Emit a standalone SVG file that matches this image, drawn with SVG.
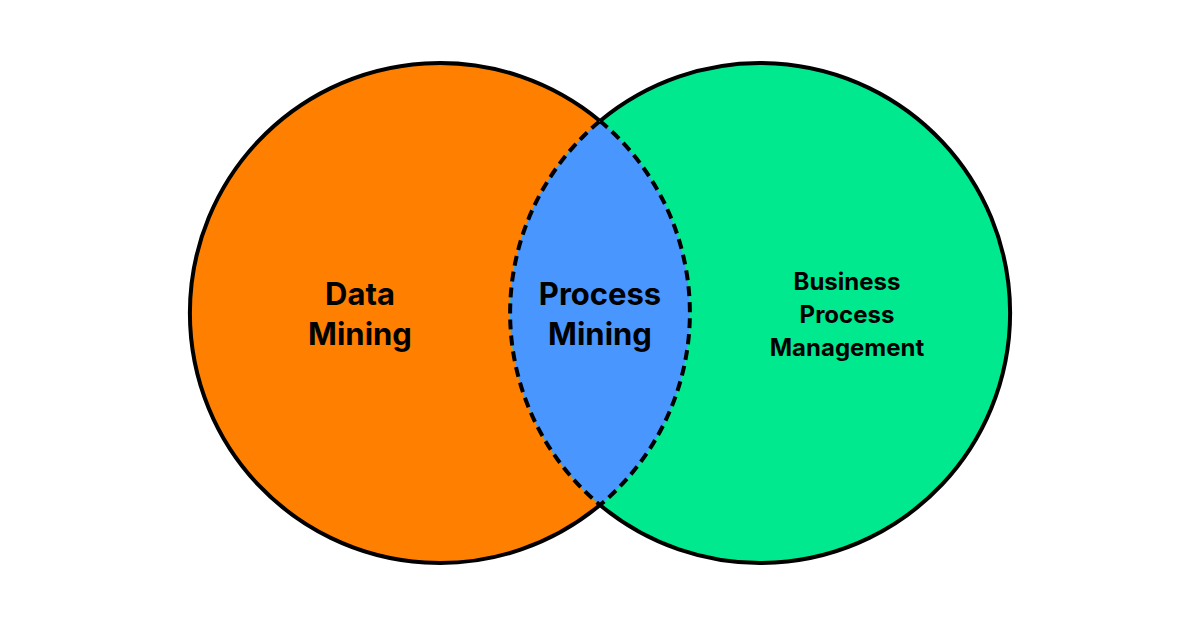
<svg xmlns="http://www.w3.org/2000/svg" width="1200" height="628" viewBox="0 0 1200 628">
<style>
text{font-family:Inter,"Liberation Sans",sans-serif;font-weight:700;fill:#000;text-anchor:middle}
.big{font-size:31px}.small{font-size:24px}
.outline{fill:none;stroke:#000;stroke-width:4}
</style>
<rect width="1200" height="628" fill="#fff"/>
<g id="data-mining">
<circle cx="440" cy="313" r="250" fill="#FF8000"/>
<path class="outline" d="M600,121 A250,250 0 1,0 600,505"/>
<text class="big" x="360" y="305">Data</text>
<text class="big" x="360" y="345">Mining</text>
</g>
<g id="bpm">
<circle cx="760" cy="313" r="250" fill="#00E98F"/>
<path class="outline" d="M600,121 A250,250 0 1,1 600,505"/>
<text class="small" x="847" y="290">Business</text>
<text class="small" x="847" y="323">Process</text>
<text class="small" x="847" y="356">Management</text>
</g>
<g id="process-mining">
<path d="M600,121 A250,250 0 0,1 600,505 A250,250 0 0,1 600,121 Z" fill="#4A96FF" stroke="#000" stroke-width="4" stroke-dasharray="10,6"/>
<text class="big" x="600" y="305">Process</text>
<text class="big" x="600" y="345">Mining</text>
</g>
<g id="connectors"/>
</svg>
